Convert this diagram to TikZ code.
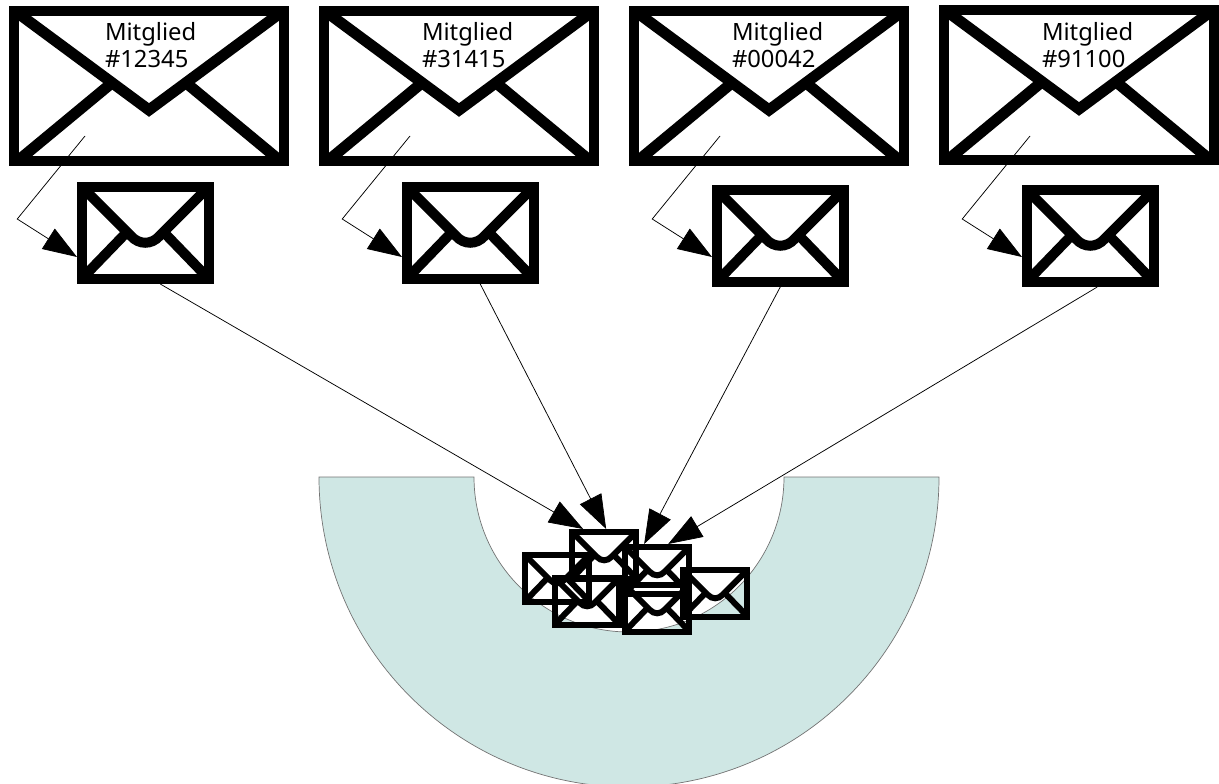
\documentclass[tikz,border=0pt]{standalone}
\usepackage{fontspec}
\setmainfont{Noto Sans}
\usetikzlibrary{arrows.meta,calc}
\definecolor{teal0}{HTML}{CFE7E4}
\tikzset{
  envframe/.style={draw=black,rectangle,inner sep=0pt,outer sep=0pt,fill=none},
  envline/.style={draw=black,line join=miter,line cap=butt},
  link/.style={draw=black,line width=0.75pt,-{Triangle[length=34pt,width=24pt]},shorten >=0pt},
  lab/.style={inner sep=0pt,outer sep=0pt,align=left,anchor=north west,font=\fontsize{23.8}{27}\selectfont},
}
% name, left, top
\newcommand\bigenv[3]{%
  \node[envframe,line width=10pt,minimum width=270pt,minimum height=150pt,anchor=north west] (#1) at (#2+5,#3+5) {};
  \begin{scope}[shift={(#2,#3)}]
    \draw[envline,line width=11pt] (6,5) -- (140,104) -- (274,5);
    \draw[envline,line width=11pt] (8,155.5) -- (104,76);
    \draw[envline,line width=11pt] (272,155.5) -- (176,76);
  \end{scope}}
% name, left, top, scale, line width
\newcommand\smallenv[5]{%
  \node[envframe,line width=#5pt,minimum width=136.5*#4pt-#5pt,minimum height=102*#4pt-#5pt,anchor=north west] (#1) at (#2+#5/2,#3+#5/2) {};
  \begin{scope}[shift={(#2,#3)},xscale=#4,yscale=#4]
    \draw[envline,line width=#5pt] (5,5) -- (54,54) .. controls (62,63) and (74.5,63) .. (82.5,54) -- (131.5,5);
    \draw[envline,line width=#5pt] (6,95.5) -- (50,50);
    \draw[envline,line width=#5pt] (130.5,95.5) -- (86.5,50);
  \end{scope}}
\begin{document}
\begin{tikzpicture}[x=1pt,y=-1pt]
\useasboundingbox (0,0) rectangle (1219,784);
% bowl
\begin{scope}
\clip (0,0) rectangle (1219,784);
\path[fill=teal0,draw=black!55,line width=0.7pt]
  (319,477) arc[start angle=180,end angle=360,radius=310pt]
  -- (784,477) arc[start angle=360,end angle=180,radius=155pt] -- cycle;
\end{scope}
% large envelopes
\bigenv{b1}{9}{6}
\bigenv{b2}{319}{6}
\bigenv{b3}{629}{6}
\bigenv{b4}{939}{5}
% small envelopes
\smallenv{s1}{77}{182}{1}{10}
\smallenv{s2}{402}{182}{1}{10}
\smallenv{s3}{712}{185}{1}{10}
\smallenv{s4}{1022}{185}{1}{10}
% pile
\smallenv{pa}{569}{529}{0.515}{6}
\smallenv{pb}{522}{552}{0.515}{6}
\smallenv{pc}{552}{575}{0.515}{6}
\smallenv{pd}{622}{544}{0.515}{6}
\smallenv{pe}{622}{582}{0.515}{6}
\smallenv{pf}{680}{567}{0.515}{6}
% labels
\node[lab] (t1) at (105,22.5) {Mitglied\\\#12345};
\node[lab] (t2) at (422,22.5) {Mitglied\\\#31415};
\node[lab] (t3) at (732,22.5) {Mitglied\\\#00042};
\node[lab] (t4) at (1042,22.5) {Mitglied\\\#91100};
% connector anchor points
\coordinate (c1a) at ([shift={(-64,50)}]b1.center);
\coordinate (c2a) at ([shift={(-49,50)}]b2.center);
\coordinate (c3a) at ([shift={(-49,50)}]b3.center);
\coordinate (c4a) at ([shift={(-49,51)}]b4.center);
\coordinate (k1) at ([shift={(-128,-60)}]s1.south);
\coordinate (k2) at ([shift={(-128,-60)}]s2.south);
\coordinate (k3) at ([shift={(-128,-63)}]s3.south);
\coordinate (k4) at ([shift={(-128,-63)}]s4.south);
\draw[link] (c1a) -- (k1) -- ([shift={(-5,24)}]s1.west);
\draw[link] (c2a) -- (k2) -- ([shift={(-5,24)}]s2.west);
\draw[link] (c3a) -- (k3) -- ([shift={(-5,21)}]s3.west);
\draw[link] (c4a) -- (k4) -- ([shift={(-5,21)}]s4.west);
\draw[link] ([shift={(15,5)}]s1.south) -- ([shift={(-21,-3)}]pa.north);
\draw[link] ([shift={(10,5)}]s2.south) -- ([shift={(2,-3)}]pa.north);
\draw[link] ([shift={(0,5)}]s3.south) -- ([shift={(-13,-3)}]pd.north);
\draw[link] ([shift={(7,5)}]s4.south) -- ([shift={(11,-3)}]pd.north);
\end{tikzpicture}
\end{document}
